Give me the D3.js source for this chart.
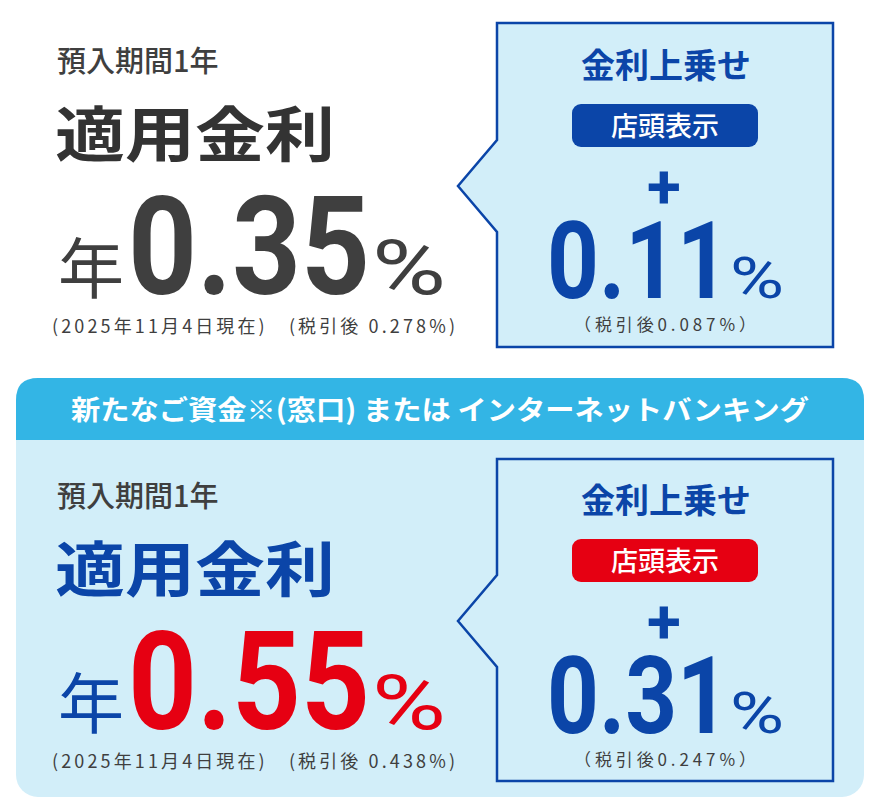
<!DOCTYPE html>
<html>
<head>
<meta charset="utf-8">
<script src="https://cdn.jsdelivr.net/npm/d3@7"></script>
<style>
  body { margin: 0; background: #fff; }
  text { font-family: "Noto Sans CJK JP", "Noto Sans", sans-serif; }
  .num { font-family: Roboto, "Noto Sans", sans-serif; }
</style>
</head>
<body>
<svg id="chart" width="880" height="809"></svg>
<script>
// Panel data
const panels = ["top", "bottom"];
const baseRates = ["0.35", "0.55"];
const afterTaxBase = ["0.278", "0.438"];
const bonusRates = ["0.11", "0.31"];
const afterTaxBonus = ["0.087", "0.247"];
const asOf = "2025年11月4日現在";
const headerText = "新たなご資金※(窓口) または インターネットバンキング";

const blue = "#0b45a8";
const red = "#e60012";
const lightBlue = "#d2eef9";
const gray = "#3f3f3f";

const svg = d3.select("#chart");

// Vertical placement of each panel
const y = d3.scaleOrdinal().domain(panels).range([0, 435]);

// bottom background panel
svg.append("rect")
  .attr("x", 16).attr("y", 378).attr("width", 848).attr("height", 419)
  .attr("rx", 22).attr("fill", lightBlue);
svg.append("path")
  .attr("d", "M16,440 V400 Q16,378 38,378 H842 Q864,378 864,400 V440 Z")
  .attr("fill", "#33b5e5");
svg.append("text")
  .attr("x", 440).attr("y", 420).attr("text-anchor", "middle")
  .attr("font-size", 27).attr("font-weight", 700).attr("fill", "#fff")
  .attr("textLength", 738).attr("lengthAdjust", "spacingAndGlyphs")
  .text(headerText);

panels.forEach((p, i) => {
  const g = svg.append("g").attr("transform", `translate(0,${y(p)})`);
  const titleColor = i === 0 ? "#333" : blue;
  const rateColor = i === 0 ? gray : red;
  const yearColor = i === 0 ? gray : blue;

  g.append("text").attr("x", 57).attr("y", 72)
    .attr("font-size", 29).attr("font-weight", 500).attr("fill", gray)
    .text("預入期間1年");
  g.append("text").attr("x", 55).attr("y", 157)
    .attr("font-size", 60).attr("font-weight", 700).attr("fill", titleColor)
    .attr("textLength", 280).attr("lengthAdjust", "spacingAndGlyphs")
    .text("適用金利");
  g.append("text").attr("x", 58).attr("y", 293)
    .attr("font-size", 66).attr("font-weight", 400).attr("fill", yearColor)
    .text("年");
  g.append("text").attr("class", "num").attr("x", 128).attr("y", 294)
    .attr("font-size", 138).attr("font-weight", 700).attr("fill", rateColor)
    .attr("textLength", 242).attr("lengthAdjust", "spacingAndGlyphs")
    .text(baseRates[i]);
  g.append("text").attr("class", "num").attr("x", 372).attr("y", 294)
    .attr("font-size", 76).attr("font-weight", 400).attr("fill", rateColor)
    .attr("textLength", 74).attr("lengthAdjust", "spacingAndGlyphs")
    .text("%");
  g.append("text").attr("x", 52).attr("y", 333)
    .attr("font-size", 18).attr("fill", gray)
    .attr("textLength", 403).attr("lengthAdjust", "spacing")
    .text(`(${asOf})　(税引後 ${afterTaxBase[i]}%)`);

  // callout box
  const top = i === 0 ? 23 : 24, bot = i === 0 ? 347 : 346;
  g.append("path")
    .attr("d", `M497,${top} H833 V${bot} H497 V232 L458,186 L497,140 Z`)
    .attr("fill", lightBlue).attr("stroke", blue).attr("stroke-width", 2.5);
  g.append("text").attr("x", 666).attr("y", 78).attr("text-anchor", "middle")
    .attr("font-size", 34).attr("font-weight", 700).attr("fill", blue)
    .text("金利上乗せ");
  g.append("rect").attr("x", 572).attr("y", 104).attr("width", 186).attr("height", 43)
    .attr("rx", 9).attr("fill", i === 0 ? blue : red);
  g.append("text").attr("x", 665).attr("y", 136).attr("text-anchor", "middle")
    .attr("font-size", 27).attr("font-weight", 500).attr("fill", "#fff")
    .text("店頭表示");
  g.append("text").attr("class", "num").attr("x", 664).attr("y", 208).attr("text-anchor", "middle")
    .attr("font-size", 62).attr("font-weight", 700).attr("fill", blue)
    .text("+");
  g.append("text").attr("class", "num").attr("x", 547).attr("y", 298)
    .attr("font-size", 108).attr("font-weight", 700).attr("fill", blue)
    .attr("textLength", 182).attr("lengthAdjust", "spacingAndGlyphs")
    .text(bonusRates[i]);
  g.append("text").attr("class", "num").attr("x", 730).attr("y", 298)
    .attr("font-size", 58).attr("font-weight", 400).attr("fill", blue)
    .attr("textLength", 54).attr("lengthAdjust", "spacingAndGlyphs")
    .text("%");
  g.append("text").attr("x", 665).attr("y", 331).attr("text-anchor", "middle")
    .attr("font-size", 17).attr("fill", gray)
    .attr("textLength", 182).attr("lengthAdjust", "spacing")
    .text(`（税引後${afterTaxBonus[i]}%）`);
});
</script>
</body>
</html>
